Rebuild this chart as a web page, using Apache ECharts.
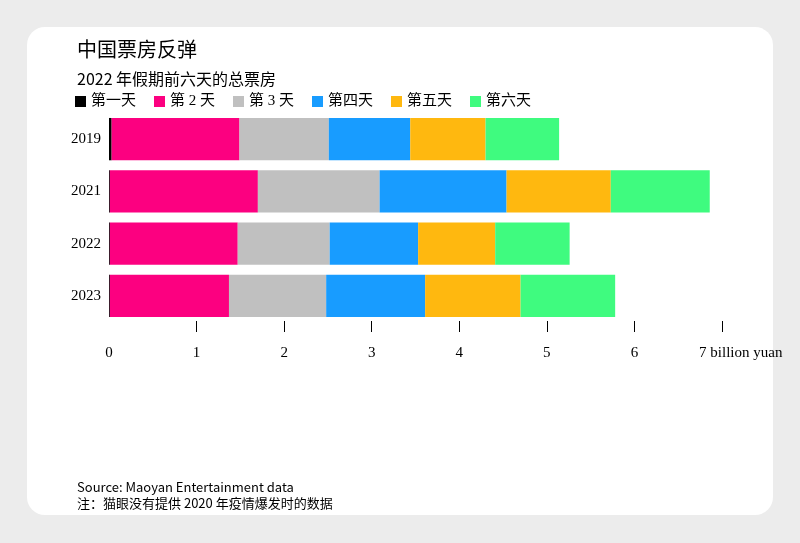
<!DOCTYPE html>
<html>
<head>
<meta charset="utf-8">
<script src="https://cdn.jsdelivr.net/npm/echarts@6/dist/echarts.min.js"></script>
<style>
  body { margin: 0; background: #ececec; }
  #card { position: absolute; left: 27px; top: 27px; width: 746px; height: 488px; background: #fff; border-radius: 18px; }
  #chart { position: absolute; left: 0; top: 0; width: 800px; height: 543px; }
</style>
</head>
<body>
<div id="card"></div>
<div id="chart"></div>
<script>
var years = ['2019', '2021', '2022', '2023'];
var dayNames = ['第一天', '第 2 天', '第 3 天', '第四天', '第五天', '第六天'];
var dayColors = ['#000000', '#fc0080', '#c0c0c0', '#189cff', '#ffb80f', '#3ffb7f'];
// billion yuan per day, rows follow years
var day1 = [0.03, 0.01, 0.01, 0.01];
var day2 = [1.46, 1.69, 1.46, 1.36];
var day3 = [1.02, 1.39, 1.05, 1.11];
var day4 = [0.93, 1.45, 1.01, 1.13];
var day5 = [0.86, 1.19, 0.88, 1.09];
var day6 = [0.84, 1.13, 0.85, 1.08];
var dayData = [day1, day2, day3, day4, day5, day6];
var xTicks = [1, 2, 3, 4, 5, 6, 7];

var serif = '"Liberation Serif", "Noto Sans CJK SC", serif';
var sans = '"Noto Sans CJK SC", "Noto Sans", sans-serif';

var chart = echarts.init(document.getElementById('chart'));
chart.setOption({
    animation: false,
    title: [
        { text: '中国票房反弹', left: 72, top: 34, textStyle: { fontFamily: sans, fontSize: 20, fontWeight: 'normal', color: '#000' } },
        { text: '2022 年假期前六天的总票房', left: 72, top: 66, textStyle: { fontFamily: sans, fontSize: 16, fontWeight: 'normal', color: '#000' } },
        { text: 'Source: Maoyan Entertainment data', left: 72, top: 476, textStyle: { fontFamily: sans, fontSize: 13, fontWeight: 'normal', color: '#000' } },
        { text: '注：猫眼没有提供 2020 年疫情爆发时的数据', left: 72, top: 492, textStyle: { fontFamily: sans, fontSize: 13, fontWeight: 'normal', color: '#000' } }
    ],
    legend: {
        left: 70, top: 89, itemWidth: 11, itemHeight: 11, itemGap: 18, icon: 'rect',
        textStyle: { fontFamily: serif, fontSize: 15, color: '#000' },
        data: dayNames
    },
    grid: { left: 109, right: 78, top: 113, height: 209 },
    xAxis: {
        type: 'value', min: 0, max: 7, interval: 1, offset: 10,
        splitLine: { show: false },
        axisLine: { show: false },
        axisTick: { show: true, inside: true, length: 11, customValues: xTicks, lineStyle: { color: '#000' } },
        axisLabel: {
            margin: 14, fontFamily: serif, fontSize: 15, color: '#000',
            formatter: function (v) { return v === 7 ? '          7 billion yuan' : v; }
        }
    },
    yAxis: {
        type: 'category', data: years, inverse: true,
        axisLine: { show: false }, axisTick: { show: false },
        axisLabel: { fontFamily: serif, fontSize: 15, color: '#000', margin: 8 }
    },
    series: dayNames.map(function (name, i) {
        return {
            name: name, type: 'bar', stack: 'total', barCategoryGap: '19%',
            itemStyle: { color: dayColors[i] },
            data: dayData[i]
        };
    })
});
</script>
</body>
</html>
